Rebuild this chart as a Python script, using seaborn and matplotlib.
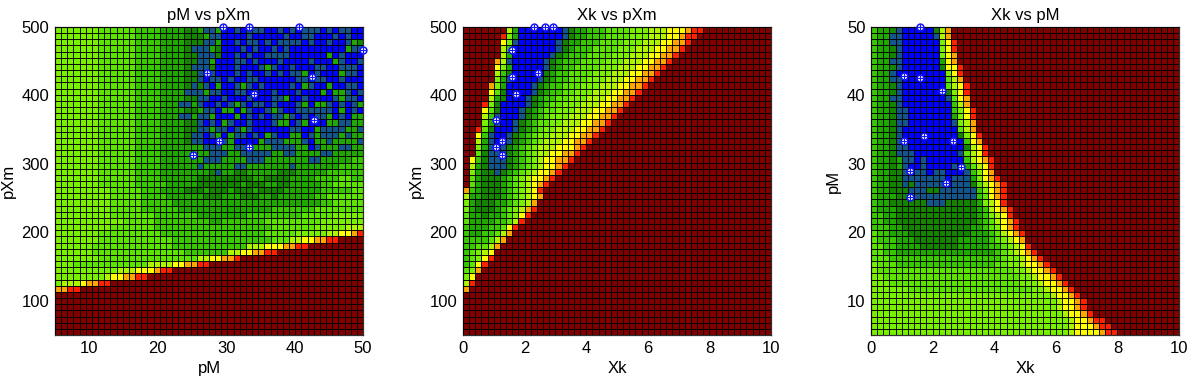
import numpy as np
import pandas as pd
import seaborn as sns
import matplotlib
matplotlib.use("Agg")
import matplotlib.pyplot as plt
from matplotlib.colors import ListedColormap

# Colour levels (0 = blue ... B = dark red)
LEVEL_COLOURS = ["#0000FF", "#14558C", "#148400", "#1EA800", "#38C800", "#5AE400",
                 "#78F000", "#AFF500", "#FFFF00", "#FFA500", "#FF2000", "#800000"]

PM_PXM_ROWS = [
    "66666665555554444333322" "311300101110010101110101100",
    "66666665555554444333322" "231100001000001001100010100",
    "66666665555554444333322" "211300101101011110100100132",
    "66666665555554444333321" "113200010100101000000000311",
    "66666665555554444333322" "111200101001111000000301000",
    "66666665555554444333322" "113000110100010000100031001",
    "66666665555554444333321" "112000100013100100011001110",
    "66666665555554444333322" "131000101001010113010003110",
    "66666665555554444333322" "101101001100000011011001000",
    "66666665555554444333321" "210300131010000103100300110",
    "66666665555554444333311" "131100110100100010003033101",
    "66666665555554444333322" "110010001000113001000013110",
    "66666665555554444333113" "100101310110100013033101013",
    "66666665555554444333322" "311033031001310011111103010",
    "66666665555554444333113" "113000301010113101011301033",
    "66666665555554444333322" "101031001000133013000331133",
    "66666665555554444333322" "113110131000000110031111331",
    "66666665555554444333321" "101303110103100330131113133",
    "66666665555554444333321" "100113000031113331033133331",
    "66666665555554444333333" "311133113333111133013331133",
    "66666665555554444333333" "331113311111331133331133333",
    "66666665555554444333333" "311133331113333333113333344",
    "66666665555554444333333" "133333113333333133333334444",
    "66666665555554444333333" "332133223333322233333444444",
    "66666665555554444333333" "222222222332222333344445544",
    "66666665555554444433333" "222222232223322333334455555",
    "66666666655555444333322" "232223222322223333334444455",
    "66666666655555444433333" "322233322233233333344555555",
    "66666666655555444443333" "333333333333333333334455555",
    "66666666655555444444333" "333333333333444444455555555",
    "66666666655555554444444" "333333334444444445555566666",
    "66666666666555554444444" "443344444445555555556666666",
    "66666666655555554444444" "444444444444555555566666777",
    "6666666" "5555555555" "44444444444444444" "55555" "66666" "77" "88" "9" "A",
    "6666666" "555555555555" "4444444444444444" "555" "77" "88" "99" "AA" "B",
    "666666" "5555555555555" "444444444444" "777" "888" "99" "AA" "B",
    "666666" "555555555555555" "4444444" "77" "88" "99" "AA" "B",
    "6666666" "5555555555555555" "77" "88" "99" "A" "B",
    "666" "555555555555" "7777" "88" "99" "AA" "B",
    "6666666666" "777" "888" "9" "AA" "B",
    "66666666" "7" "88" "99" "AA" "B",
    "6777899AAB",
    "99AAB",
    "B", "B", "B", "B", "B", "B", "B",
]

XK_PXM_ROWS = [
    "BBBBBBB730000000123344455556667778889AAB",
    "BBBBBBA63000000012334445555666777889AAB",
    "BBBBBB861000000123344455556667778899AB",
    "BBBBBB74000000012344455556667778899AB",
    "BBBBBB7300000012344455556667778899AB",
    "BBBBB9710000012344455556667778899AB",
    "BBBBB863000001234455556667778899AB",
    "BBBBB74200000234455556667778899AB",
    "BBBBB6310000123445556667778899AB",
    "BBBB9630000123445556667778899AB",
    "BBBB852000012344556667778899AB",
    "BBBB73200012344556667778899AB",
    "BBBA6200001234556667778899AB",
    "BBB8520001234556667778899AB",
    "BBB741000123456667778899AB",
    "BBB63100123455667778899AB",
    "BBA5200012345667778899AB",
    "BB8410012345667778899AB",
    "BB731001234567778899AB",
    "BB63111234567778889AB",
    "BB5211123456778899AB",
    "B8421112345678899AB",
    "B732111234567889AB",
    "B63221234567889AB",
    "B5322234567889AB",
    "B532223456789AB",
    "943222345678AB",
    "7332223456789B",
    "632223345679B",
    "63222345679AB",
    "5332334568AB",
    "533334457AB",
    "43334458AB",
    "43344579B",
    "4444579B",
    "445579B",
    "45678B",
    "4568AB",
    "458AB",
    "569B",
    "68B",
    "7AB",
    "9B",
    "B", "B", "B", "B", "B", "B", "B",
]

XK_PM_ROWS = [
    "4332100000279B",
    "4331100000179B",
    "4331100000068AB",
    "4332100000068AB",
    "43321000000689B",
    "43311000000389B",
    "43321000000288AB",
    "43310000000068AB",
    "433110000000579B",
    "433210000000578AB",
    "433210000000268AB",
    "4331100000001589B",
    "433210000000" "0479B",
    "433211000000" "0468AB",
    "433211000000" "0368AB",
    "433211000000" "01679B",
    "433210000000" "00579B",
    "433210000000" "00268AB",
    "433210000000" "000489B",
    "433211000000" "000278AB",
    "4332111" "0000000" "1" "578AB",
    "4332311" "01" "000000" "4789AB",
    "43323" "1001" "0000" "10" "3578AB",
    "43322" "1011" "0" "11" "000" "1" "4689B",
    "43322" "11111110111" "3689AB",
    "43322" "12" "11111" "0" "111" "25789AB",
    "43322" "2" "111" "22" "111111" "4689AB",
    "4333222" "1111111111" "4589AB",
    "4332222" "22" "111" "22222" "3678AB",
    "4333" "2222222222222" "34789AB",
    "4433" "2222222222222" "34678AB",
    "4433" "2222222222222" "345789AB",
    "4443" "3" "22222222222" "33" "45689AB",
    "5443" "33" "2222222222" "333" "45789AB",
    "5444" "333" "2222222" "33333" "456789B",
    "5544" "3333" "222222" "33333" "44" "5678AB",
    "5544" "3333333333333333" "456789AB",
    "5554" "44444444444444444" "566789AB",
    "6555" "4444444444444444" "55667889AB",
    "6555" "5555555555555555555" "667889AB",
    "66" "5555555555555555555555" "667889AB",
    "666" "555555555555555555555" "6667889AB",
    "666666" "55555555555555555555" "667889AB",
    "66666666666666666666" "666666666" "7889AB",
    "66666666666666666666" "6666666666" "7889AB",
    "66666666666666666666" "6666666666" "7889AB",
    "66666666666666666666" "66666666666" "7889AB",
    "66666666666666666666" "666666666666" "7889AAB",
    "66666666666666666666" "666666666666" "78889AAB",
    "66666666666666666666" "666666666666" "788889AAB",
]

# Marked points
MARK_XK = [2.29, 2.65, 2.93, 1.58, 2.42, 1.58, 1.73, 1.08, 1.26, 1.06, 1.28]
MARK_PM = [40.6, 33.4, 29.5, 50.0, 27.2, 42.6, 34.1, 42.8, 29.0, 33.4, 25.1]
MARK_PXM = [500, 500, 500, 467, 433, 427, 402, 364, 333, 325, 313]

PANELS = [
    ("pM vs pXm", "pM", "pXm", PM_PXM_ROWS, MARK_PM, MARK_PXM, (5, 50), (50, 500),
     [10, 20, 30, 40, 50], [100, 200, 300, 400, 500]),
    ("Xk vs pXm", "Xk", "pXm", XK_PXM_ROWS, MARK_XK, MARK_PXM, (0, 10), (50, 500),
     [0, 2, 4, 6, 8, 10], [100, 200, 300, 400, 500]),
    ("Xk vs pM", "Xk", "pM", XK_PM_ROWS, MARK_XK, MARK_PM, (0, 10), (5, 50),
     [0, 2, 4, 6, 8, 10], [10, 20, 30, 40, 50]),
]
AXES_LEFT_PX = [55, 463, 871]
N = 50
W, H = 1191, 379


def to_grid(rows):
    out = []
    for r in rows:
        r = (r + r[-1] * N)[:N]
        out.append([int(ch, 16) for ch in r])
    return np.array(out, dtype=float)


sns.set_theme(style="white")
plt.rcParams["font.family"] = ["Liberation Sans", "DejaVu Sans"]
cmap = ListedColormap(LEVEL_COLOURS)

fig = plt.figure(figsize=(W / 100, H / 100), dpi=100)
for left, (title, xl, yl, rows, mx, my, xr, yr, xt, yt) in zip(AXES_LEFT_PX, PANELS):
    ax = fig.add_axes([left / W, 1 - 335 / H, 308 / W, 308 / H])
    sns.heatmap(pd.DataFrame(to_grid(rows)), ax=ax, cmap=cmap, vmin=-0.5, vmax=11.5, cbar=False,
                linewidths=0, square=False, xticklabels=False, yticklabels=False)
    # Cell borders as separate snapped lines just under one pixel wide, so they stay even
    for k in range(N + 1):
        ax.axhline(k, color="black", linewidth=0.66, snap=True, zorder=3)
        ax.axvline(k, color="black", linewidth=0.66, snap=True, zorder=3)
    to_x = lambda v: (np.asarray(v, float) - xr[0]) / (xr[1] - xr[0]) * N
    to_y = lambda v: (yr[1] - np.asarray(v, float)) / (yr[1] - yr[0]) * N
    ax.set_xticks(to_x(xt))
    ax.set_xticklabels([str(t) for t in xt], rotation=0)
    ax.set_yticks(to_y(yt))
    ax.set_yticklabels([str(t) for t in yt], rotation=0)
    ax.tick_params(axis="both", labelsize=12, length=0, pad=4, colors="black")
    for s in ax.spines.values():
        s.set_visible(True)
        s.set_color("#303030")
        s.set_linewidth(0.9)
    marks = pd.DataFrame({"x": to_x(mx), "y": to_y(my)})
    sns.scatterplot(data=marks, x="x", y="y", ax=ax, s=24, color="white", edgecolor="#1414FF",
                    linewidth=1.1, clip_on=False, zorder=5, legend=False)
    sns.scatterplot(data=marks, x="x", y="y", ax=ax, s=22, marker="+", color="#1414FF",
                    linewidth=0.8, clip_on=False, zorder=6, legend=False)
    ax.set_xlabel(xl, fontsize=12, labelpad=4, color="black")
    ax.set_ylabel(yl, fontsize=12, labelpad=4, color="black")
    ax.set_title(title, fontsize=12, pad=5, color="black")
    ax.set_xlim(0, N)
    ax.set_ylim(N, 0)

fig.savefig("out.png", dpi=100)
